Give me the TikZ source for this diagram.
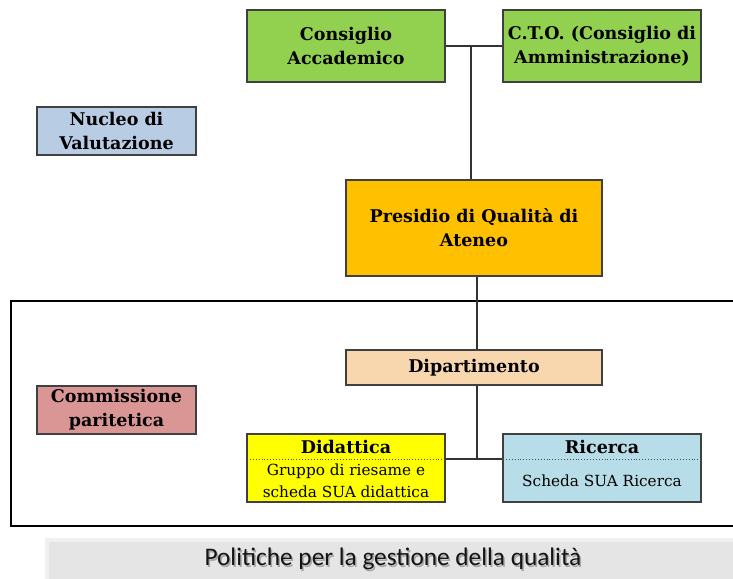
\documentclass[tikz,border=0pt]{standalone}
\usepackage{fontspec}
\setmainfont{DejaVu Serif}
\newfontfamily\capfont{Carlito}
\usetikzlibrary{shadows,calc}
\definecolor{cgreen}{HTML}{92D050}
\definecolor{cblue}{HTML}{B8CCE4}
\definecolor{corange}{HTML}{FFC000}
\definecolor{cpeach}{HTML}{F9D7AE}
\definecolor{cred}{HTML}{DA9694}
\definecolor{cyellow}{HTML}{FFFF00}
\definecolor{cltblue}{HTML}{B7DDE8}
\definecolor{cborder}{HTML}{404040}
\tikzset{
  box/.style={draw=cborder, line width=1.4pt, inner sep=1pt, align=center,
    font=\fontsize{17.5}{24}\selectfont\bfseries},
  conn/.style={draw=black!80, line width=1.2pt},
  body/.style={align=center, font=\fontsize{15.3}{22}\selectfont, inner sep=0pt},
  head/.style={font=\fontsize{17.5}{24}\selectfont\bfseries, inner sep=0pt},
  captxt/.style={font=\capfont\fontsize{25.3}{28}\selectfont},
}
\begin{document}
\begin{tikzpicture}[x=1pt,y=-1pt]
\useasboundingbox (0,0) rectangle (733,578);
% frame
\draw[black, line width=1.2pt] (740,301) -- (11,301) -- (11,526) -- (740,526);
% caption band
\fill[black!6] (45,538) rectangle (740,580);
\fill[black!10] (49,542) rectangle (740,580);
\node[captxt, text=black!35] (capsh) at (394.5,560.5) {Politiche per la gestione della qualità};
\node[captxt, text=black!92] (cap) at (393,559) {Politiche per la gestione della qualità};

\node[box, fill=cgreen, minimum width=198, minimum height=72] (ca) at (346,46) {Consiglio\\Accademico};
\node[box, fill=cgreen, minimum width=198, minimum height=72] (cto) at (602,46) {C.T.O. (Consiglio di\\Amministrazione)};
\node[box, fill=cblue, minimum width=159, minimum height=48] (nv) at (116.5,131) {Nucleo di\\Valutazione};
\node[box, fill=corange, minimum width=256, minimum height=96] (pq) at (474,228) {Presidio di Qualità di\\Ateneo};
\node[box, fill=cpeach, minimum width=256, minimum height=35] (dip) at (474,367.5) {Dipartimento};
\node[box, fill=cred, minimum width=159, minimum height=48] (cp) at (116.5,410) {Commissione\\paritetica};
\node[box, fill=cyellow, minimum width=198, minimum height=68] (did) at (346,468) {};
\node[box, fill=cltblue, minimum width=198, minimum height=68] (ric) at (602,468) {};

\coordinate (j1) at (471,46.5);
\coordinate (j2) at (477,459);

\node[head] (didh) at (346,447) {Didattica};
\node[body] (didb) at (346,481) {Gruppo di riesame e\\scheda SUA didattica};
\node[head] (rich) at (602,447) {Ricerca};
\node[body] (ricb) at (602,481) {Scheda SUA Ricerca};

\draw[black!70, line width=0.9pt, dotted] ([xshift=0.7pt]did.west |- j2) -- ([xshift=-0.7pt]did.east |- j2);
\draw[black!70, line width=0.9pt, dotted] ([xshift=0.7pt]ric.west |- j2) -- ([xshift=-0.7pt]ric.east |- j2);

\draw[conn] (ca.east) -- (cto.west);
\draw[conn] (j1) -- (j1 |- pq.north);
\draw[conn] (pq.south -| j2) -- (dip.north -| j2);
\draw[conn] (dip.south -| j2) -- (j2);
\draw[conn] (did.east |- j2) -- (ric.west |- j2);
\end{tikzpicture}
\end{document}
